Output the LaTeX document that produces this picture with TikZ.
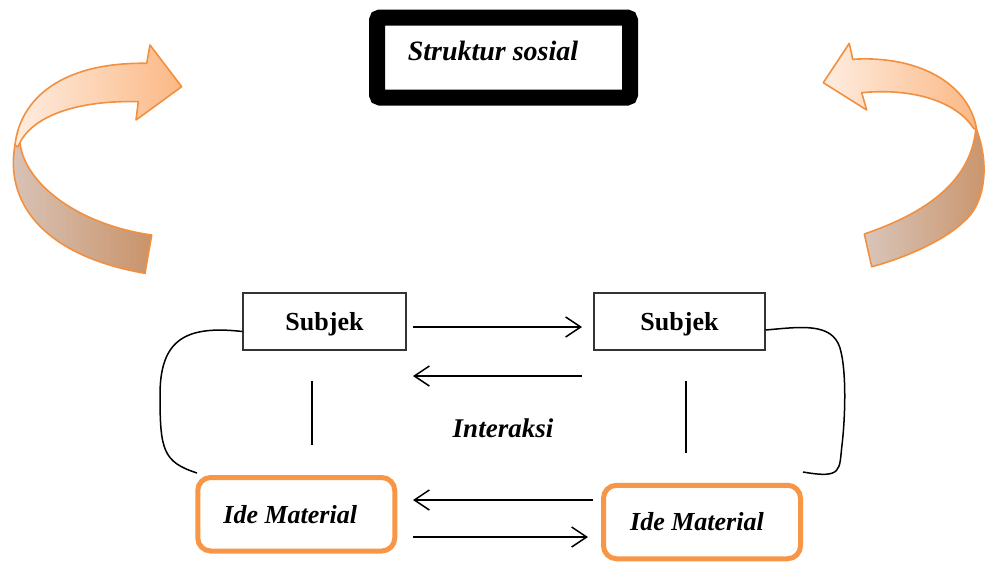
\documentclass[tikz,border=0pt]{standalone}
\usepackage{fontspec}
\setmainfont{Liberation Serif}
\usetikzlibrary{arrows.meta}
\definecolor{orng}{HTML}{F79646}
\definecolor{aline}{HTML}{F2903F}
\definecolor{upL}{HTML}{FEEDE0}
\definecolor{upR}{HTML}{FBB885}
\definecolor{loL}{HTML}{D9C5BA}
\definecolor{loR}{HTML}{C9936A}
\tikzset{
  big/.style={font=\fontsize{26}{30}\selectfont},
  subj/.style={draw=black!80, line width=1.3pt, minimum width=#1, minimum height=57pt, text height=19pt, text depth=2pt, font=\fontsize{26}{30}\selectfont\bfseries},
  ide/.style={draw=orng, line width=5pt, rounded corners=13pt, minimum width=197pt, minimum height=73.5pt, font=\fontsize{26}{30}\selectfont\bfseries\itshape},
  arr/.style={line width=1.5pt, -{Straight Barb[length=15pt,width=20pt,line width=1.5pt]}},
  plain/.style={line width=1.5pt},
  ribbon/.style={draw=aline, line width=1.6pt, line join=round}
}
\begin{document}
\begin{tikzpicture}[x=1pt,y=-1pt]
\useasboundingbox (0,0) rectangle (993,562);
% title box
\node[draw=black, line width=16pt, rounded corners=3pt, minimum width=253pt, minimum height=80pt] (ss) at (503.5,57.5) {};
\node[font=\fontsize{28}{32}\selectfont\bfseries\itshape] (sst) at (493,51) {Struktur sosial};
% left curved arrow
\path[ribbon, left color=loL, right color=loR]
  (15,145) .. controls (5,200) and (40,255) .. (145,273.3)
  -- (151.7,235) .. controls (80,225) and (25,185) .. (20,143) -- cycle;
\path[ribbon, left color=upL, right color=upR]
  (146.7,63.3) .. controls (60,62) and (20,100) .. (15,145)
  -- (18,147) .. controls (30,115) and (80,100) .. (138.3,101.7)
  -- (136,120) -- (181.7,86.7) -- (150,45) -- cycle;
% right curved arrow
\path[ribbon, left color=loL, right color=loR]
  (976.7,130) .. controls (990,165) and (985,205) .. (963.3,222)
  .. controls (945,240) and (905,258) .. (871.7,266.7)
  -- (864.3,234) .. controls (920,215) and (970,185) .. (975.7,130) -- cycle;
\path[ribbon, left color=upL, right color=upR]
  (852.7,59.3) .. controls (920,55) and (970,85) .. (976.7,130)
  -- (973.3,128) .. controls (955,100) and (910,88) .. (861.7,92.7)
  -- (866.7,110) -- (823.3,82.7) -- (849.3,43.3) -- cycle;
% subject boxes
\node[subj=163pt] (s1) at (324.5,321.5) {Subjek};
\node[subj=171pt] (s2) at (679.5,321.5) {Subjek};
% ide material
\node[ide] (i1) at (296.25,514.25) {Ide Material\hspace*{12pt}};
\node[ide] (i2) at (702,522) {Ide Material\hspace*{10pt}};
\node[font=\fontsize{27}{31}\selectfont\bfseries\itshape] (int) at (503,428) {Interaksi};
% arrows
\coordinate (a1s) at (413,327); \coordinate (a1e) at (582,327);
\coordinate (a2s) at (582,376); \coordinate (a2e) at (413,376);
\coordinate (a3s) at (593,500); \coordinate (a3e) at (413,500);
\coordinate (a4s) at (413,537); \coordinate (a4e) at (588,537);
\draw[arr] (a1s) -- (a1e);
\draw[arr] (a2s) -- (a2e);
\draw[arr] (a3s) -- (a3e);
\draw[arr] (a4s) -- (a4e);
% vertical lines
\coordinate (v1a) at (312,381); \coordinate (v1b) at (312,445);
\coordinate (v2a) at (686,381); \coordinate (v2b) at (686,453);
\draw[plain] (v1a) -- (v1b);
\draw[plain] (v2a) -- (v2b);
% side curves
\coordinate (c1) at (197,473);
\coordinate (c2) at (803,472);
\draw[plain] ([yshift=-10pt]s1.west) .. controls (185,325) and (160,340) .. (160,395)
  .. controls (160,450) and (163,462) .. (c1);
\draw[plain] ([yshift=-8.5pt]s2.east) .. controls (800,327) and (832,322) .. (840,348)
  .. controls (847,372) and (845,420) .. (842,445)
  .. controls (839,470) and (843,479) .. (c2);
\end{tikzpicture}
\end{document}
